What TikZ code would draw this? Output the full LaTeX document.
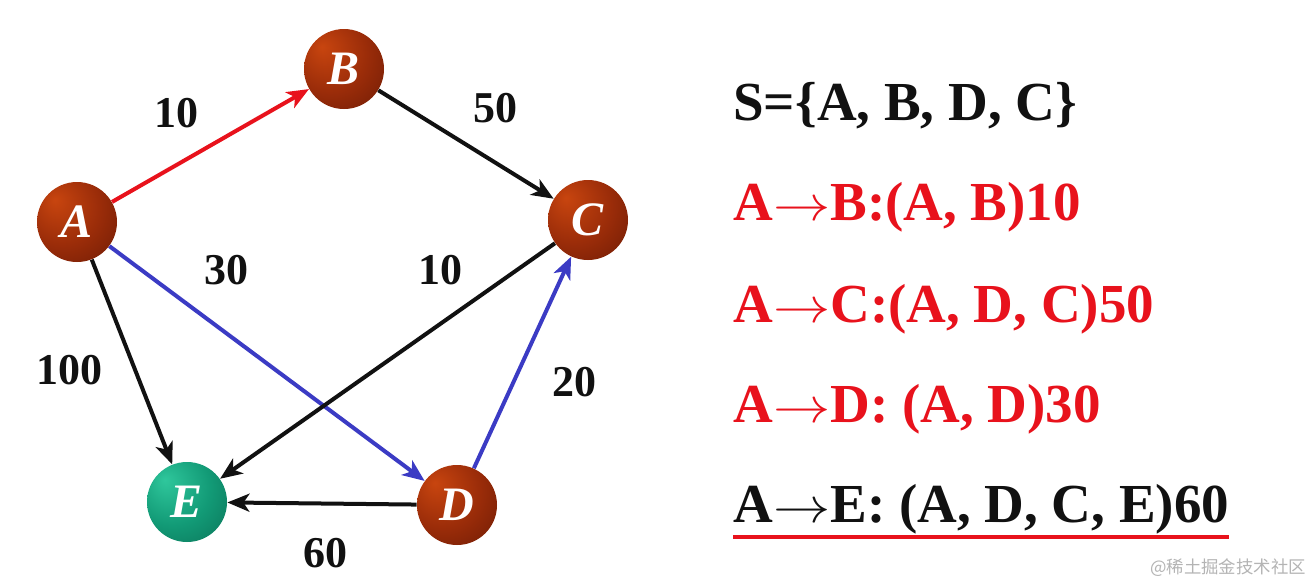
\documentclass[tikz,border=0pt]{standalone}
\usepackage{fontspec}
\setmainfont{Liberation Serif}
\newfontfamily\cjkfont{Noto Sans CJK SC}
\usepackage{graphicx}
\usepackage{xcolor}
\usetikzlibrary{arrows.meta,positioning}
\definecolor{ink}{HTML}{111111}
\definecolor{pathred}{HTML}{E8121C}
\definecolor{pathblue}{HTML}{3B3BC4}
\definecolor{markgray}{HTML}{B4B4B4}
\definecolor{redlight}{HTML}{C8450F}
\definecolor{redmid}{HTML}{9A2C09}
\definecolor{reddark}{HTML}{5E1504}
\definecolor{grnlight}{HTML}{2FC79C}
\definecolor{grnmid}{HTML}{129A76}
\definecolor{grndark}{HTML}{08654D}
\pgfdeclareradialshading{redball}{\pgfpoint{-14bp}{14bp}}{%
  color(0bp)=(redlight); color(24bp)=(redmid); color(52bp)=(reddark); color(70bp)=(reddark)}
\pgfdeclareradialshading{greenball}{\pgfpoint{-14bp}{14bp}}{%
  color(0bp)=(grnlight); color(24bp)=(grnmid); color(52bp)=(grndark); color(70bp)=(grndark)}
\newcommand{\pto}{\scalebox{1.15}[1]{$\rightarrow$}}
\tikzset{
  vertex/.style={circle,minimum size=40pt,inner sep=0pt,text=white,
                 font=\fontsize{24}{26}\selectfont\bfseries\itshape},
  redvertex/.style={vertex,shading=redball},
  greenvertex/.style={vertex,shading=greenball},
  weight/.style={font=\fontsize{22}{24}\selectfont\bfseries,text=ink},
  blackarr/.style={-{Stealth[length=11pt,width=9pt,inset=3pt]},line width=2pt,
                   draw=ink},
  redarr/.style={blackarr,draw=pathred},
  bluearr/.style={blackarr,draw=pathblue},
  pathline/.style={anchor=base west,inner sep=0pt,
                   font=\fontsize{27.5}{30}\selectfont\bfseries},
  underline/.style={line width=2pt,draw=pathred}
}
\begin{document}
\begin{tikzpicture}[x=0.5pt,y=-0.5pt]
  \path[use as bounding box,fill=white] (0,0) rectangle (1314,585);
  % graph
  \node[redvertex] (A) at (77,222) {A};
  \node[redvertex] (B) at (344,69) {B};
  \node[redvertex] (C) at (588,220) {C};
  \node[redvertex] (D) at (457,505) {D};
  \node[greenvertex] (E) at (187,502) {E};
  \draw[redarr] (A) -- (B);
  \draw[blackarr] (B) -- (C);
  \draw[blackarr] (A) -- (E);
  \draw[bluearr] (A) -- (D);
  \draw[blackarr] (C) -- (E);
  \draw[bluearr] (D) -- (C);
  \draw[blackarr] (D) -- (E);
  \node[weight] (wab) at (176,113) {10};
  \node[weight] (wbc) at (495,108) {50};
  \node[weight] (wad) at (226,270) {30};
  \node[weight] (wce) at (440,270) {10};
  \node[weight] (wae) at (70,370) {100};
  \node[weight] (wdc) at (574,382) {20};
  \node[weight] (wde) at (325,553) {60};
  % shortest paths
  \node[pathline,text=ink] (setS) at (733,120) {S=\{A, B, D, C\}};
  \node[pathline,text=pathred] (pathB) at (733,220) {A\pto B:(A, B)10};
  \node[pathline,text=pathred] (pathC) at (733,322) {A\pto C:(A, D, C)50};
  \node[pathline,text=pathred] (pathD) at (733,422) {A\pto D: (A, D)30};
  \node[pathline,text=ink] (pathE) at (733,522) {A\pto E: (A, D, C, E)60};
  \draw[underline] ([yshift=-7.5pt]pathE.base west) -- ([yshift=-7.5pt]pathE.base east);
  \node[font=\cjkfont\fontsize{8.7}{10}\selectfont,text=markgray] (mark) at (1228,568)
    {@稀土掘金技术社区};
\end{tikzpicture}
\end{document}
